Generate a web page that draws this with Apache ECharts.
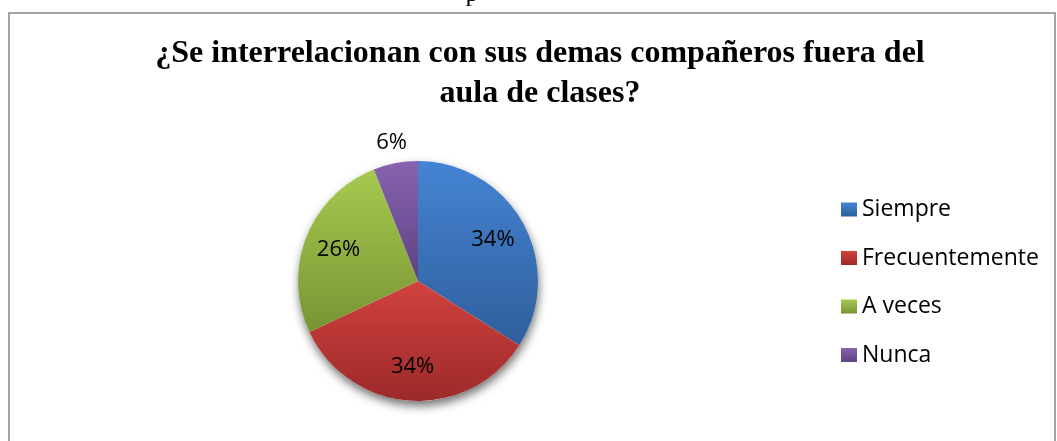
<!DOCTYPE html>
<html>
<head>
<meta charset="utf-8">
<script src="https://cdn.jsdelivr.net/npm/echarts@6/dist/echarts.min.js"></script>
<style>
html,body{margin:0;padding:0;background:#fff;}
#chart{width:1057px;height:441px;}
</style>
</head>
<body>
<div id="chart"></div>
<script>
const titleText = '¿Se interrelacionan con sus demas compañeros fuera del\naula de clases?';
const categories = ['Siempre', 'Frecuentemente', 'A veces', 'Nunca'];
const percentages = [34, 34, 26, 6];
const colorTop = ['#4584D3', '#D1423F', '#A7C94F', '#8763AE'];
const colorBottom = ['#2F5E9B', '#9C2A2A', '#789433', '#5E4283'];

function grad(i) {
  return new echarts.graphic.LinearGradient(0, 0, 0, 1, [
    { offset: 0, color: colorTop[i] },
    { offset: 1, color: colorBottom[i] }
  ]);
}

const CX = 418, CY = 281, R = 120;
const labelFont = { fontFamily: 'Open Sans', fontSize: 22, color: '#000' };

const mainData = categories.map((c, i) => ({ name: c, value: percentages[i], itemStyle: { color: grad(i) } }));
const innerLabelData = categories.map((c, i) => ({
  name: c, value: percentages[i],
  label: { show: percentages[i] >= 10 }
}));
const outerLabelData = categories.map((c, i) => ({
  name: c, value: percentages[i],
  label: { show: percentages[i] < 10 }
}));

const chart = echarts.init(document.getElementById('chart'), null, { renderer: 'canvas' });
chart.setOption({
  animation: false,
  backgroundColor: '#fff',
  title: {
    text: titleText,
    left: 535,
    top: 29,
    textAlign: 'center',
    textStyle: {
      fontFamily: 'Liberation Serif',
      fontWeight: 'bold',
      fontSize: 32,
      lineHeight: 40,
      color: '#000'
    }
  },
  legend: {
    orient: 'vertical',
    left: 841,
    top: 198,
    padding: 0,
    itemWidth: 16,
    itemHeight: 14,
    itemGap: 25.5,
    icon: 'rect',
    data: categories,
    selectedMode: false,
    textStyle: { fontFamily: 'Open Sans', fontSize: 23, lineHeight: 20, height: 20, color: '#000' }
  },
  graphic: [
    {
      type: 'rect',
      shape: { x: 9, y: 13, width: 1046, height: 460 },
      style: { fill: 'none', stroke: '#868686', lineWidth: 1.5 },
      z: -10
    },
    {
      type: 'text',
      style: { text: 'p', x: 472, y: 7, align: 'center', verticalAlign: 'bottom',
               font: '26px "Liberation Serif"', fill: '#000' },
      z: -10
    }
  ],
  series: [
    {
      type: 'pie',
      center: [CX, CY],
      radius: [0, R],
      silent: true,
      startAngle: 90,
      clockwise: true,
      data: [{ value: 1, name: 'base', itemStyle: { color: '#fff', shadowBlur: 10, shadowOffsetY: 5, shadowOffsetX: 1, shadowColor: 'rgba(0,0,0,0.55)' } }],
      label: { show: false },
      labelLine: { show: false },
      legendHoverLink: false,
      z: 1
    },
    {
      type: 'pie',
      center: [CX, CY],
      radius: [0, R],
      startAngle: 90,
      clockwise: true,
      silent: true,
      data: mainData,
      itemStyle: { borderWidth: 0 },
      label: { show: false },
      labelLine: { show: false },
      z: 2
    },
    {
      type: 'pie',
      center: [CX, CY],
      radius: [45, R],
      startAngle: 90,
      clockwise: true,
      silent: true,
      data: innerLabelData,
      itemStyle: { color: 'rgba(0,0,0,0)' },
      label: Object.assign({ position: 'inside', formatter: '{c}%', padding: [4, 0, 0, 0] }, labelFont),
      labelLine: { show: false },
      z: 3
    },
    {
      type: 'pie',
      center: [CX, CY],
      radius: [126, 150],
      startAngle: 90,
      clockwise: true,
      silent: true,
      data: outerLabelData,
      itemStyle: { color: 'rgba(0,0,0,0)' },
      label: Object.assign({ position: 'inside', formatter: '{c}%' }, labelFont),
      labelLine: { show: false },
      z: 3
    }
  ]
});
</script>
</body>
</html>
